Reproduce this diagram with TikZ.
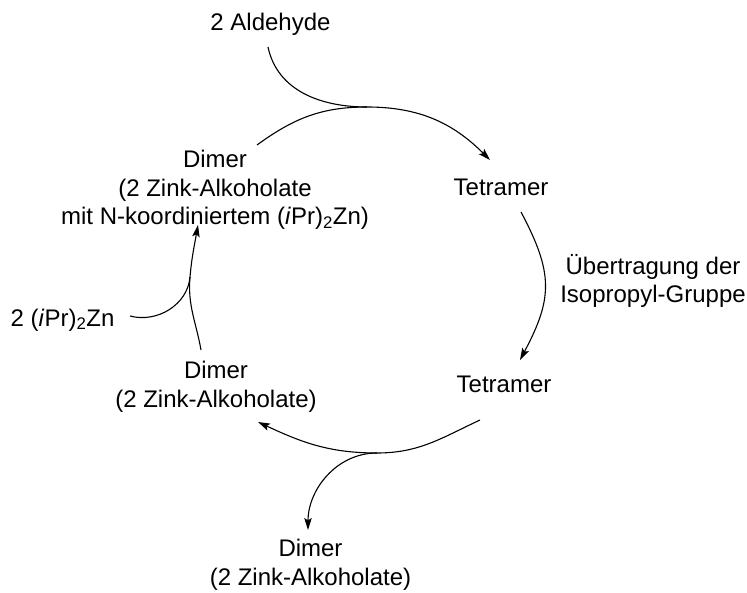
\documentclass[tikz,border=0pt]{standalone}
\usepackage{fontspec}
\setmainfont{Liberation Sans}
\usetikzlibrary{positioning,arrows.meta,calc}

\begin{document}
\begin{tikzpicture}[
    x=1pt, y=1pt,
    species/.style={align=center, inner sep=2pt, font=\fontsize{24}{28.5}\selectfont},
    arrow/.style={-{Stealth[length=12pt,width=7.5pt,inset=2.5pt]}, line width=1.1pt},
    curve/.style={line width=1.1pt}
]
\useasboundingbox (0,0) rectangle (747,592);

% Species
\node[species] (ald) at (270.5,568) {2 Aldehyde};
\node[species] (dimA) at (215,402) {Dimer\\(2 Zink-Alkoholate\\mit N-koordiniertem (\textit{i}Pr)\textsubscript{2}Zn)};
\node[species] (tetA) at (501,405) {Tetramer};
\node[species] (ueb) at (653,311) {Übertragung der\\Isopropyl-Gruppe};
\node[species] (tetB) at (504,208) {Tetramer};
\node[species] (dimB) at (216,205) {Dimer\\(2 Zink-Alkoholate)};
\node[species] (zn) at (62.5,272) {2 (\textit{i}Pr)\textsubscript{2}Zn};
\node[species] (dimC) at (310.5,27) {Dimer\\(2 Zink-Alkoholate)};

% Junctions
\coordinate (j1) at (367,485);
\coordinate (j2) at (377,139);
\coordinate (j3) at (190,315);

% Cycle
\draw[arrow] ($(dimA)+(42,45)$) to[out=36,in=180] (j1) to[out=0,in=135] ($(tetA)+(-11,27)$);
\draw[arrow] ($(tetA)+(20,-25)$) to[out=-62,in=62,looseness=1.2] ($(tetB)+(16,24)$);
\draw[arrow] ($(tetB)+(-24,-36)$) to[out=205,in=0] (j2) to[out=180,in=-25] ($(dimB)+(42,-35)$);
\draw[arrow] ($(dimB)+(-15,37)$) to[out=100,in=-95] (j3) to[out=85,in=-100] ($(dimA)+(-17,-35)$);

% Entry and exit
\draw[curve] ($(ald)+(-2.5,-23)$) to[out=-78,in=180] (j1);
\draw[curve] ($(zn)+(67.5,4)$) to[out=-15,in=-95] (j3);
\draw[arrow] (j2) to[out=180,in=90] ($(dimC)+(-2.5,35)$);

\end{tikzpicture}
\end{document}
